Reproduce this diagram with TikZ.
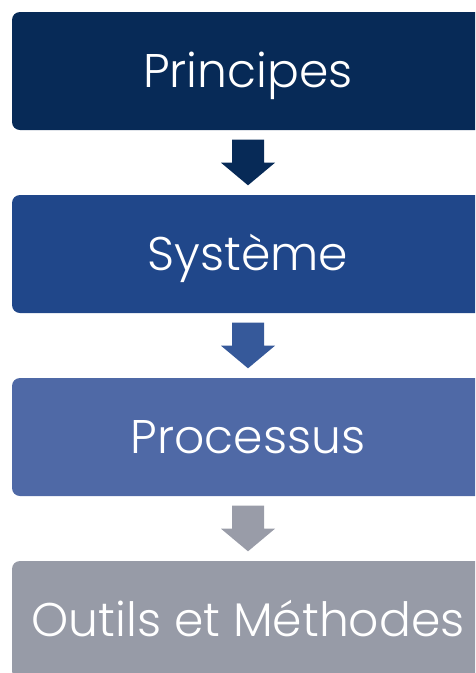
\documentclass[tikz,border=0pt]{standalone}
\usepackage{fontspec}
\setmainfont{Poppins}[UprightFont={* Light}]
\usetikzlibrary{calc}
\definecolor{cA}{HTML}{072A57}
\definecolor{cB}{HTML}{20478A}
\definecolor{cC}{HTML}{4F69A6}
\definecolor{cD}{HTML}{979BA7}
\definecolor{aB}{HTML}{36599A}
\definecolor{aD}{HTML}{999CA8}
\newcommand{\flowArrow}[3]{%
  \fill[#3] ($(#1.south)+(-16pt,-9.5pt)$) -- ($(#1.south)+(16pt,-9.5pt)$)
    -- ($(#1.south)+(16pt,-32.5pt)$) -- ($(#1.south)+(27pt,-32.5pt)$)
    -- ($(#2.north)+(0pt,9.5pt)$)
    -- ($(#1.south)+(-27pt,-32.5pt)$) -- ($(#1.south)+(-16pt,-32.5pt)$) -- cycle;}
\begin{document}
\begin{tikzpicture}[x=1pt,y=1pt,
  stagebox/.style={rectangle, rounded corners=8pt, minimum width=472pt, minimum height=118pt,
    inner sep=0pt, text=white, text height=40pt, text depth=8pt,
    font=\fontsize{47.2}{50}\selectfont}]
\useasboundingbox (0,0) rectangle (475,-673);
\begin{scope}
\clip (0,0) rectangle (475,-673);
\node[stagebox, fill=cA] (p1) at (248,-71) {Principes};
\node[stagebox, fill=cB] (p2) at (248,-254) {Système};
\node[stagebox, fill=cC] (p3) at (248,-437) {Processus};
\node[stagebox, fill=cD] (p4) at (248,-620) {Outils et Méthodes};
\flowArrow{p1}{p2}{cA}
\flowArrow{p2}{p3}{aB}
\flowArrow{p3}{p4}{aD}
\end{scope}
\end{tikzpicture}
\end{document}
